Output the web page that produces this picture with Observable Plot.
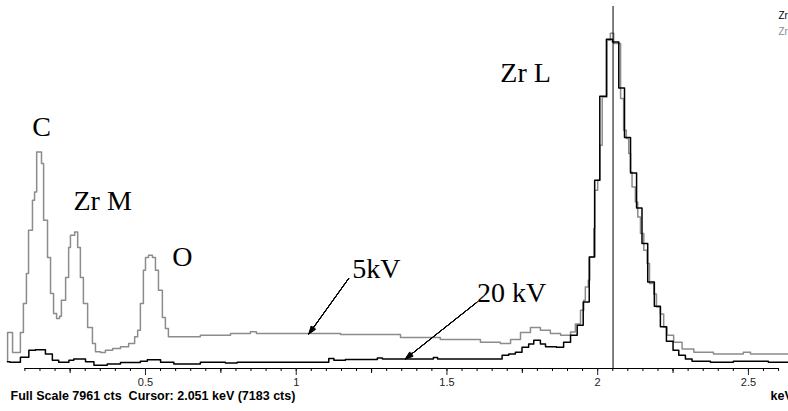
<!DOCTYPE html>
<html><head><meta charset="utf-8">
<script src="https://cdn.jsdelivr.net/npm/d3@7"></script>
<script src="https://cdn.jsdelivr.net/npm/@observablehq/plot@0.6"></script>
<style>html,body{margin:0;padding:0;background:#fff;overflow:hidden}</style>
</head><body><div id="chart"></div>
<script>
// 5 kV spectrum (grey), step starts in keV and counts
const energy5kV = [0.042,0.0425,0.059,0.085,0.095,0.105,0.112,0.125,0.132,0.139,0.155,0.162,0.175,0.185,0.195,0.205,0.215,0.221,0.235,0.245,0.251,0.265,0.275,0.284,0.294,0.308,0.324,0.334,0.351,0.367,0.391,0.417,0.444,0.464,0.474,0.483,0.493,0.500,0.510,0.523,0.533,0.543,0.556,0.566,0.576,0.633,0.682,0.782,0.848,0.868,1.014,1.147,1.346,1.478,1.611,1.677,1.711,1.744,1.777,1.810,1.843,1.877,1.910,1.926,1.943,1.954,1.959,1.969,1.974,1.987,1.990,2.000,2.007,2.015,2.031,2.042,2.053,2.076,2.086,2.095,2.103,2.109,2.114,2.125,2.133,2.142,2.153,2.164,2.172,2.186,2.195,2.208,2.219,2.230,2.252,2.280,2.319,2.384,2.483,2.507,2.640];
const counts5kV = [170,790,350,790,1430,2090,3040,3700,3880,4760,4510,3260,2440,1650,1210,1100,1150,1500,2000,2660,2930,3000,2660,2000,1430,900,550,370,350,400,440,480,550,700,840,1430,2160,2440,2490,2440,2160,1720,1120,880,700,700,730,770,810,770,770,750,680,640,580,550,640,790,900,840,770,730,800,980,1280,1500,1790,1940,2450,3080,3920,4140,4910,5970,7220,7370,7150,5940,5240,5060,4730,4320,3990,3660,3330,2970,2600,2310,1870,1640,1350,1200,910,730,580,430,360,320,360,320,320];
// 20 kV spectrum (black)
const energy20kV = [0.042,0.050,0.085,0.113,0.135,0.168,0.191,0.212,0.246,0.262,0.301,0.329,0.373,0.417,0.483,0.506,0.550,0.594,0.682,0.765,0.804,1.108,1.125,1.163,1.269,1.286,1.455,1.469,1.683,1.705,1.727,1.749,1.771,1.788,1.810,1.827,1.863,1.887,1.910,1.932,1.952,1.972,1.990,2.007,2.029,2.049,2.070,2.089,2.109,2.129,2.147,2.166,2.188,2.208,2.228,2.250,2.269,2.291,2.313,2.374,2.450,2.566,2.640];
const counts20kV = [150,140,250,400,410,320,180,140,180,210,150,70,100,130,160,190,140,100,140,120,140,220,180,200,230,210,240,210,290,320,360,470,540,620,540,480,470,580,730,950,1460,2450,4140,5990,7240,7180,6170,5080,4300,3530,2750,1900,1370,920,600,400,290,210,160,140,160,140,140];

const fullScale = 7961;
const cursorEnergy = 2.051;
const xDomain = [0.019, 2.633];
const minorTicks = d3.range(0.1, 2.6001, 0.05);
const mediumTicks = [0.25, 0.75, 1.25, 1.75, 2.25];
const majorTicks = [0.5, 1, 1.5, 2, 2.5];
const majorLabels = ["0.5", "1", "1.5", "2", "2.5"];

const peakLabels = ["C", "Zr M", "O", "Zr L", "5kV", "20 kV"];
const peakLabelEnergy = [0.124, 0.261, 0.589, 1.677, 1.186, 1.600];
const peakLabelCounts = [5300, 3680, 2460, 6500, 2180, 1660];

const arrowFromEnergy = [1.174, 1.600];
const arrowFromCounts = [1980, 1460];
const arrowToEnergy = [1.042, 1.362];
const arrowToCounts = [760, 210];

const legendNames = ["Zr", "Zr"];
const legendColors = ["#000000", "#8c8c8c"];

const statusText = "Full Scale 7961 cts\u00a0 Cursor: 2.051 keV (7183 cts)";
const unitText = "keV";

const spec5 = energy5kV.map((e, i) => ({e, c: counts5kV[i]}));
const spec20 = energy20kV.map((e, i) => ({e, c: counts20kV[i]}));
const labels = peakLabels.map((t, i) => ({t, e: peakLabelEnergy[i], c: peakLabelCounts[i]}));
const arrows = arrowFromEnergy.map((e, i) => ({x1: e, y1: arrowFromCounts[i], x2: arrowToEnergy[i], y2: arrowToCounts[i]}));

const arrowMarks = [40, 32, 24, 16, 8].map(a => Plot.arrow(arrows, {x1: "x1", y1: "y1", x2: "x2", y2: "y2", stroke: "#000", strokeWidth: 1, headLength: 12, headAngle: a}));
const legendMarks = legendNames.map((t, i) => Plot.text([t], {fill: legendColors[i], frameAnchor: "top-right", dx: -10, dy: 9 + i * 16.5, textAnchor: "start", lineAnchor: "middle", fontSize: 10}));

const plot = Plot.plot({
  width: 788, height: 411,
  marginTop: 6, marginBottom: 43, marginLeft: 0, marginRight: 0,
  x: {domain: xDomain, label: null},
  y: {domain: [0, fullScale], axis: null},
  style: {fontFamily: "'Liberation Sans', Arial, sans-serif", fontSize: "11px", background: "#fff", color: "#000"},
  marks: [
    Plot.ruleY([{y: 0, a: minorTicks[0], b: minorTicks[minorTicks.length - 1]}], {y: "y", x1: "a", x2: "b", stroke: "#000", strokeWidth: 1.2}),
    Plot.axisX({ticks: minorTicks, tickSize: 3, tickFormat: () => "", color: "#000"}),
    Plot.axisX({ticks: mediumTicks, tickSize: 5, tickFormat: () => "", color: "#000"}),
    Plot.axisX({ticks: majorTicks, tickSize: 7, tickPadding: 3, tickFormat: d => majorLabels[majorTicks.indexOf(d)], color: "#222", fontSize: 11}),
    Plot.line(spec5, {x: "e", y: "c", curve: "step-after", stroke: "#8c8c8c", strokeWidth: 1.5}),
    Plot.line(spec20, {x: "e", y: "c", curve: "step-after", stroke: "#000", strokeWidth: 1.5}),
    Plot.ruleX([{x: cursorEnergy, y1: 0, y2: fullScale}], {x: "x", y1: "y1", y2: "y2", stroke: "#000", strokeWidth: 1}),
    ...arrowMarks,
    Plot.text(labels, {x: "e", y: "c", text: "t", textAnchor: "start", lineAnchor: "middle", fontFamily: "'Liberation Serif', 'Times New Roman', serif", fontSize: 28, fill: "#000"}),
    Plot.text([statusText], {frameAnchor: "bottom-left", dx: 10, dy: 27, textAnchor: "start", lineAnchor: "middle", fontWeight: "bold", fontSize: 12.5, fill: "#000"}),
    Plot.text([unitText], {frameAnchor: "bottom-right", dx: -18, dy: 27, textAnchor: "start", lineAnchor: "middle", fontWeight: "bold", fontSize: 12.5, fill: "#000"}),
    ...legendMarks
  ]
});
document.getElementById("chart").appendChild(plot);
</script>
</body></html>
